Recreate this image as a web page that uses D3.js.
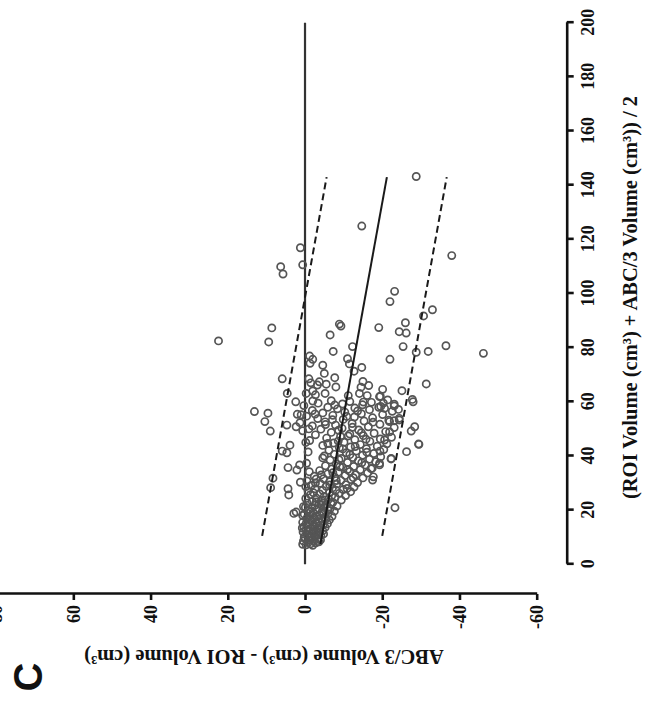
<!DOCTYPE html>
<html><head><meta charset="utf-8">
<script src="https://cdn.jsdelivr.net/npm/d3@7"></script>
<style>body{margin:0;background:#fff}svg{display:block}</style>
</head><body>
<svg id="chart" width="653" height="704"></svg>
<script>
// ---- data (mean of the two volumes, difference ABC/3 - ROI) ----
const meanTicks = [0, 20, 40, 60, 80, 100, 120, 140, 160, 180, 200];
const diffTicks = [-60, -40, -20, 0, 20, 40, 60, 80];
const xTitle = "(ROI Volume (cm³) + ABC/3 Volume (cm³)) / 2";
const yTitle = "ABC/3 Volume (cm³) - ROI Volume (cm³)";
const panelLabel = "C";

// zero line, bias (regression) line and limits of agreement: [mean, diff]
const zeroLine = [[0, 0], [200, 0]];
const biasLine = [[7.5, -4.0], [143, -21.2]];
const upperLimit = [[10.5, 11.1], [143, -5.6]];
const lowerLimit = [[10.5, -20.0], [143, -36.7]];

// scattered points [mean, diff]
const outerPoints = [
  [143.2,-28.8],[124.9,-14.7],[116.9,1.2],[110.6,0.6],[109.9,6.3],[107.2,5.7],[114,-38],
  [100.8,-23.2],[97,-22],[94,-33],[91.7,-30.7],[89.2,-26],[88.7,-8.9],[88,-9.3],[87.4,-19.1],
  [85.9,-24.4],[85.4,-26.2],[87.3,8.6],[82.5,22.4],[82.1,9.4],[84.7,-6.5],[78.6,-7.3],
  [80.4,-12.3],[80.4,-25.4],[78.3,-28.8],[78.6,-31.9],[80.7,-36.5],[77.9,-46.2],[75.7,-22],
  [75.9,-11],[74,-11.5],[72.7,-14.7],[71.3,-12.7],[76.9,-1.2],[75.7,-2],[74.2,-1.3],
  [73.5,-4.6],[70.5,-5],[68.9,-7.7],[68.5,5.9],[68.5,-1],[67.4,-3.7],[66.2,-3.2],[66.6,-31.4],
  [63.1,4.6],[63.1,-0.3],[64,-2],[62.6,-2.7],[63.1,-5.2],[62.3,-11.2],[65.4,-14.5],[63.1,-14.1],
  [62.3,-16.1],[64.6,-20.1],[62.1,-19.5],[64.1,-25.1],[60.9,-27.8],
  [67,-1.5],[66.5,-5.5],[65.5,-8],[67.5,-15],[66,-16.5],
  [56.4,13.1],[55.8,9.6],[52.7,10.4],[49.2,9],[60,2.4],[55.4,2],[51.4,4.7],[50.8,2.3],
  [41.8,5.9],[41.2,4.7],[44,3.9],[35.7,4.4],[34.8,2.1],[36.7,1.4],[31.8,8.3],[28.3,8.9],
  [27.9,4.4],[25.6,4.2],[30.3,1.2],[18.8,2.9],[19.3,2.3],
  [20.9,-23.3],[44.3,-29.5],[41.6,-26.3],[38.9,-22.3],[60,-28],[50.8,-28.4],[49.2,-27.5],
  [59.1,-23.1],[57.2,-24.2],[52.7,-21.9],[53.3,-24.4],[58,-19.1],[48.9,-21.9],[41.8,-19.4],
  [36.7,-19.3],[35.3,-17.1],[31.1,-17.5],[32.3,-17.7],[61.9,-19.3],[59.5,-20.3],[58.5,-23.1],
  [53,-23.1],[53.9,-24.4],[45.9,-20.6],[44.4,-29.4],[37.3,-19.3],[39.1,-22.3]
];

// dense core [mean, diff]
const corePoints = [
  [7.2,-0.3],[7.6,-1.5],[7.9,-2.8],[8.3,-3.6],[8.6,0.4],[8.9,-0.9],[9.2,-2.1],[9.5,-3.3],
  [9.9,-1.2],[10.1,0.2],[10.4,-2.6],[10.8,-4.1],[11.0,-0.6],[11.3,-1.8],[11.6,-3.4],[11.9,0.5],
  [12.2,-2.4],[12.4,-4.6],[12.7,-0.2],[13.1,-1.4],[13.3,-3.1],[13.6,-5.2],[13.9,0.3],[14.2,-2.0],
  [14.4,-3.9],[14.8,-1.0],[15.0,-5.8],[15.3,-2.9],[15.5,0.6],[15.9,-4.5],[16.1,-1.7],[16.4,-6.3],
  [16.6,-3.5],[16.9,-0.4],[17.2,-2.4],[17.4,-5.1],[17.7,-7.0],[17.9,-1.3],
  [18.2,-3.8],[18.5,0.2],[18.7,-5.9],[19.0,-2.1],[19.4,-4.4],[19.6,-7.6],[19.9,-0.9],[20.2,-3.0],
  [20.5,-6.5],[20.8,-1.8],[21.0,-4.9],[21.3,0.4],[21.5,-8.3],[21.8,-2.6],[22.1,-5.6],[22.4,-3.7],
  [22.6,-0.6],[22.9,-7.2],[23.2,-1.9],[23.5,-4.3],[23.7,-9.4],[24.0,-6.1],
  [7.0,-2.0],[7.4,0.6],[8.0,-0.8],[8.5,-2.3],[9.0,-4.0],[9.6,0.0],[10.3,-1.6],[10.6,-3.0],
  [11.2,-4.8],[11.8,-2.2],[12.5,-1.0],[12.9,-3.7],[13.4,0.7],[13.8,-2.5],[14.6,-4.7],[15.1,-0.3],
  [15.7,-3.4],[16.3,-1.2],[16.8,-5.4],[17.5,-3.0],[18.0,0.6],[18.9,-4.9],[19.3,-1.4],[20.0,-6.0],
  [20.6,-3.6],[21.1,-0.1],[21.9,-4.2],[22.3,-6.8],[23.0,-2.9],[23.8,-5.2],
  [24.3,-0.2],[24.5,-2.9],[24.8,-7.8],[25.1,-5.0],[25.4,-10.5],[25.7,-1.4],[26.0,-3.8],[26.2,-8.9],
  [26.5,-6.3],[26.8,-11.8],[27.1,-0.8],[27.3,-4.6],[27.6,-9.9],[27.9,-2.6],[28.2,-7.1],[28.5,-12.7],
  [28.8,-5.5],[29.1,-1.6],[29.4,-10.6],[29.6,-8.2],[29.9,-3.9],
  [30.2,-13.6],[30.5,-6.4],[30.8,-0.5],[31.0,-9.3],[31.3,-11.9],[31.6,-4.8],[31.9,-15.0],[32.2,-7.7],
  [32.5,-2.4],[32.8,-10.4],[33.1,-13.1],[33.4,-5.9],[33.7,-16.2],[34.0,-8.6],[34.3,-11.6],[34.6,-3.8],
  [34.9,-14.3],[35.2,-6.9],[35.5,-17.4],[35.8,-9.8],
  [36.1,-12.6],[36.4,-5.3],[36.7,-15.6],[37.0,-8.1],[37.3,-0.4],[37.6,-11.0],[37.9,-18.3],[38.2,-13.8],
  [38.5,-6.5],[38.8,-16.7],[39.1,-9.4],[39.4,-12.4],[39.7,-19.6],[40.0,-5.0],[40.3,-14.9],[40.6,-7.6],
  [40.9,-17.8],[41.2,-10.7],[41.5,-0.8],[41.8,-13.3],
  [42.1,-6.2],[42.4,-20.4],[42.7,-15.9],[43.0,-8.9],[43.3,-11.8],[43.6,-18.7],[43.9,-4.6],[44.2,-14.3],
  [44.5,-21.2],[44.8,-7.4],[45.1,-10.1],[45.4,-16.8],[45.7,-1.2],[46.0,-12.9],[46.3,-19.5],[46.6,-5.6],
  [46.9,-22.4],[47.2,-9.2],[47.5,-15.1],[47.8,-2.7],
  [48.1,-11.6],[48.4,-17.9],[48.7,-6.8],[49.0,-20.9],[49.3,0.6],[49.6,-13.9],[49.9,-4.1],[50.2,-9.6],
  [50.5,-23.1],[50.8,-16.4],[51.1,-1.9],[51.4,-7.9],[51.7,-19.4],[52.0,-12.2],[52.3,1.3],[52.6,-5.2],
  [52.9,-15.3],[53.2,-21.7],[53.5,-9.9],[53.8,-3.3],
  [54.1,-17.5],[54.4,-12.8],[54.7,-0.4],[55.0,-7.2],[55.3,-20.1],[55.6,-14.6],[55.9,-4.6],[56.2,-10.3],
  [56.5,-22.6],[56.8,-1.9],[57.1,-16.7],[57.4,-8.4],[57.7,-12.9],[58.0,-5.9],[58.3,-19.6],[58.6,0.3],
  [58.9,-14.9],[59.2,-9.7],[59.5,-3.4],[59.8,-17.2],[60.1,-11.6],[60.4,-6.8],[60.7,-21.4],
  [25.3,-6.9],[26.4,-2.2],[27.4,-8.0],[28.0,-10.9],[29.3,-6.4],[30.0,-2.7],[30.9,-8.1],[32.0,-12.5],
  [33.0,-4.2],[33.8,-7.2],[35.0,-11.0],[36.0,-9.0],[37.5,-14.7],[38.6,-8.8],[39.3,-4.6],[40.5,-11.6],
  [41.4,-16.0],[42.6,-9.8],[43.5,-13.0],[44.6,-5.9],[45.5,-8.6],[46.2,-15.8],[47.4,-11.2],[48.6,-14.6],
  [49.5,-8.7],[50.6,-12.3],[51.6,-5.3],[52.5,-17.6],[53.4,-7.1],[54.6,-10.8],[55.5,-2.6],[56.6,-13.6],
  [57.6,-20.6],[58.8,-7.7],[59.9,-15.1],[45.0,-0.2],[50.0,-1.0],[55.2,1.0],[60.3,-2.0],[34.2,-1.1],
  [31.5,-2.9],[28.7,-0.2]
];

// ---- drawing ----
const svg = d3.select("#chart");
const g = svg.append("g").attr("transform", "translate(0,704) rotate(-90)");

const x = d3.scaleLinear().domain([0, 200]).range([139.7, 681.3]);
const y = d3.scaleLinear().domain([-60, 80]).range([536.7, -3.9]);

const font = "'Liberation Serif','Times New Roman',serif";
const fmt = d => String(d);

const xAxis = g.append("g").attr("transform", "translate(0,566.7)")
  .call(d3.axisBottom(x).tickValues(meanTicks).tickFormat(fmt).tickSize(7).tickPadding(8).tickSizeOuter(0));
const yAxis = g.append("g").attr("transform", "translate(110,0)")
  .call(d3.axisLeft(y).tickValues(diffTicks).tickFormat(fmt).tickSize(6).tickPadding(5).tickSizeOuter(0));
[xAxis, yAxis].forEach(a => {
  a.select(".domain").attr("stroke", "#111").attr("stroke-width", 2.6);
  a.selectAll(".tick line").attr("stroke", "#111").attr("stroke-width", 2.6);
  a.selectAll(".tick text").attr("fill", "#111")
    .style("font-family", font).style("font-weight", "bold").style("font-size", "18px");
});

const line = d3.line().x(d => x(d[0])).y(d => y(d[1]));

g.append("path").datum(zeroLine).attr("d", line)
  .attr("fill", "none").attr("stroke", "#333").attr("stroke-width", 2.2);

const pts = outerPoints.concat(corePoints);
g.append("g").selectAll("circle").data(pts).join("circle")
  .attr("cx", d => x(d[0])).attr("cy", d => y(d[1])).attr("r", 3.6)
  .attr("fill", "none").attr("stroke", "#555").attr("stroke-width", 1.7);

g.append("path").datum(biasLine).attr("d", line)
  .attr("fill", "none").attr("stroke", "#1a1a1a").attr("stroke-width", 2);
[upperLimit, lowerLimit].forEach(l => {
  g.append("path").datum(l).attr("d", line)
    .attr("fill", "none").attr("stroke", "#1a1a1a").attr("stroke-width", 2)
    .attr("stroke-dasharray", "7,4");
});

// titles
g.append("text").attr("x", (x(0) + x(200)) / 2 - 4).attr("y", 632).attr("text-anchor", "middle")
  .attr("dominant-baseline", "middle")
  .style("font-family", font).style("font-weight", "bold").style("font-size", "20.5px")
  .attr("fill", "#111").text(xTitle);
g.append("text").attr("transform", "translate(49,264) rotate(-90)").attr("text-anchor", "middle")
  .attr("dominant-baseline", "middle")
  .style("font-family", font).style("font-weight", "bold").style("font-size", "20.5px")
  .attr("fill", "#111").text(yTitle);
g.append("text").attr("x", 27).attr("y", 28).attr("text-anchor", "middle")
  .attr("dominant-baseline", "central")
  .style("font-family", "'Liberation Sans',Arial,sans-serif").style("font-weight", "bold")
  .style("font-size", "40px").attr("fill", "#111").text(panelLabel);
</script>
</body></html>
